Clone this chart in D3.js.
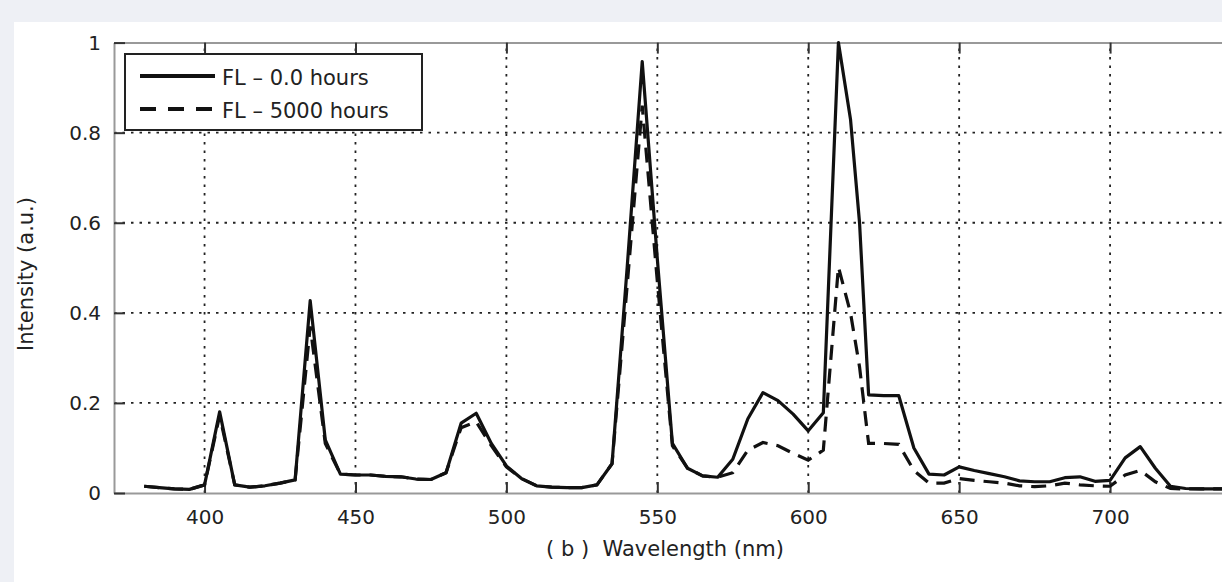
<!DOCTYPE html>
<html>
<head>
<meta charset="utf-8">
<script src="https://cdn.jsdelivr.net/npm/d3@7"></script>
<style>
  body { margin: 0; background: #eef0f5; }
  svg { display: block; }
  text { font-family: "DejaVu Sans", sans-serif; fill: #222; }
</style>
</head>
<body>
<svg width="1222" height="582"></svg>
<script>
// wavelength samples (nm)
var wavelengths = [380, 385, 390, 395, 400, 405, 410, 415, 420, 425, 430, 435, 440, 445, 450,
  455, 460, 465, 470, 475, 480, 485, 490, 495, 500, 505, 510, 515, 520, 525, 530, 535, 540,
  545, 550, 555, 560, 565, 570, 575, 580, 585, 590, 595, 600, 605, 610, 614, 617, 620, 625,
  630, 635, 640, 645, 650, 655, 660, 665, 670, 675, 680, 685, 690, 695, 700, 705, 710, 715,
  720, 725, 730, 735, 740, 745, 750];

// FL - 0.0 hours
var fl0 = [0.015, 0.012, 0.009, 0.008, 0.018, 0.18, 0.018, 0.013, 0.016, 0.022, 0.029, 0.427, 0.118, 0.042, 0.040,
  0.040, 0.037, 0.036, 0.031, 0.030, 0.045, 0.155, 0.177, 0.11, 0.06, 0.032, 0.016, 0.013, 0.012, 0.012, 0.018, 0.065, 0.50,
  0.958, 0.52, 0.11, 0.055, 0.038, 0.035, 0.075, 0.165, 0.223, 0.205, 0.175, 0.138, 0.178, 1.0, 0.83, 0.60, 0.218, 0.216,
  0.216, 0.10, 0.042, 0.040, 0.058, 0.050, 0.043, 0.036, 0.027, 0.025, 0.025, 0.034, 0.036, 0.026, 0.028, 0.078, 0.103, 0.055,
  0.015, 0.010, 0.009, 0.009, 0.009, 0.009, 0.009];

// FL - 5000 hours
var fl5000 = [0.015, 0.012, 0.009, 0.008, 0.018, 0.172, 0.018, 0.013, 0.016, 0.022, 0.029, 0.37, 0.11, 0.042, 0.040,
  0.040, 0.037, 0.036, 0.031, 0.030, 0.045, 0.145, 0.158, 0.105, 0.058, 0.032, 0.016, 0.013, 0.012, 0.012, 0.018, 0.065, 0.46,
  0.86, 0.47, 0.105, 0.055, 0.038, 0.035, 0.045, 0.095, 0.112, 0.105, 0.088, 0.073, 0.095, 0.502, 0.40, 0.28, 0.11, 0.11,
  0.108, 0.05, 0.022, 0.022, 0.032, 0.028, 0.025, 0.022, 0.016, 0.014, 0.016, 0.022, 0.018, 0.016, 0.015, 0.04, 0.05, 0.025,
  0.010, 0.009, 0.009, 0.009, 0.009, 0.009, 0.009];

var xTicks = [400, 450, 500, 550, 600, 650, 700];
var yTicks = [0, 0.2, 0.4, 0.6, 0.8, 1];
var yTickLabels = ["0", "0.2", "0.4", "0.6", "0.8", "1"];
var seriesNames = ["FL \u2013 0.0 hours", "FL \u2013 5000 hours"];

var svg = d3.select("svg");

svg.append("rect").attr("width", 1222).attr("height", 582).attr("fill", "#eef0f5");
svg.append("rect").attr("x", 14).attr("y", 22).attr("width", 1208).attr("height", 560).attr("fill", "#fff");

var x = d3.scaleLinear().domain([370, 750]).range([114, 1261]);
var y = d3.scaleLinear().domain([0, 1]).range([493, 42.6]);

// dotted grid
var grid = svg.append("g")
    .attr("stroke", "#222")
    .attr("stroke-width", 1.8)
    .attr("stroke-dasharray", "2.5,6");

grid.selectAll(".gx")
  .data(xTicks)
  .enter().append("line")
    .attr("x1", function(d) { return x(d); })
    .attr("x2", function(d) { return x(d); })
    .attr("y1", y(0))
    .attr("y2", y(1));

grid.selectAll(".gy")
  .data(yTicks.slice(1, -1))
  .enter().append("line")
    .attr("x1", x.range()[0])
    .attr("x2", x.range()[1])
    .attr("y1", function(d) { return y(d); })
    .attr("y2", function(d) { return y(d); });

// axes, ticks pointing in
var styleAxis = function(g) {
  g.select(".domain").attr("stroke", "#999").attr("stroke-width", 2);
  g.selectAll(".tick line").attr("stroke", "#333").attr("stroke-width", 2);
  g.selectAll(".tick text").attr("font-family", "DejaVu Sans").attr("font-size", 20).attr("fill", "#222");
};

svg.append("g")
    .attr("transform", "translate(0," + y(0) + ")")
    .call(d3.axisBottom(x).tickValues(xTicks).tickSize(-11).tickSizeOuter(0).tickPadding(17))
    .call(styleAxis);

svg.append("g")
    .attr("transform", "translate(0," + y(1) + ")")
    .call(d3.axisTop(x).tickValues(xTicks).tickSize(-11).tickSizeOuter(0).tickFormat(""))
    .call(styleAxis);

svg.append("g")
    .attr("transform", "translate(" + x(370) + ",0)")
    .call(d3.axisLeft(y).tickValues(yTicks).tickSize(-11).tickSizeOuter(0).tickPadding(13)
      .tickFormat(function(d, i) { return yTickLabels[i]; }))
    .call(styleAxis);

// series
var line = d3.line()
    .x(function(d) { return x(d[0]); })
    .y(function(d) { return y(d[1]); });

var plot = svg.append("g");

plot.append("path")
    .datum(d3.zip(wavelengths, fl0))
    .attr("d", line)
    .attr("fill", "none")
    .attr("stroke", "#111")
    .attr("stroke-width", 3.2)
    .attr("stroke-linejoin", "round");

plot.append("path")
    .datum(d3.zip(wavelengths, fl5000))
    .attr("d", line)
    .attr("fill", "none")
    .attr("stroke", "#111")
    .attr("stroke-width", 3.2)
    .attr("stroke-dasharray", "15,9");

// axis titles
svg.append("text")
    .attr("x", 665)
    .attr("y", 556)
    .attr("text-anchor", "middle")
    .attr("font-size", 21)
    .attr("xml:space", "preserve")
    .text("( b )  Wavelength (nm)");

svg.append("text")
    .attr("transform", "translate(33,351) rotate(-90)")
    .attr("text-anchor", "start")
    .attr("font-size", 21)
    .text("Intensity (a.u.)");

// legend
var legend = svg.append("g");

legend.append("rect")
    .attr("x", 125)
    .attr("y", 54)
    .attr("width", 297)
    .attr("height", 76)
    .attr("fill", "#fff")
    .attr("stroke", "#222")
    .attr("stroke-width", 2);

var items = legend.selectAll(".item")
  .data(seriesNames)
  .enter().append("g")
    .attr("transform", function(d, i) { return "translate(0," + (76 + i * 33) + ")"; });

items.append("line")
    .attr("x1", 140)
    .attr("x2", 215)
    .attr("stroke", "#111")
    .attr("stroke-width", 4)
    .attr("stroke-dasharray", function(d, i) { return i ? "16,12" : null; });

items.append("text")
    .attr("x", 222)
    .attr("y", 9)
    .attr("font-size", 21)
    .text(function(d) { return d; });
</script>
</body>
</html>
